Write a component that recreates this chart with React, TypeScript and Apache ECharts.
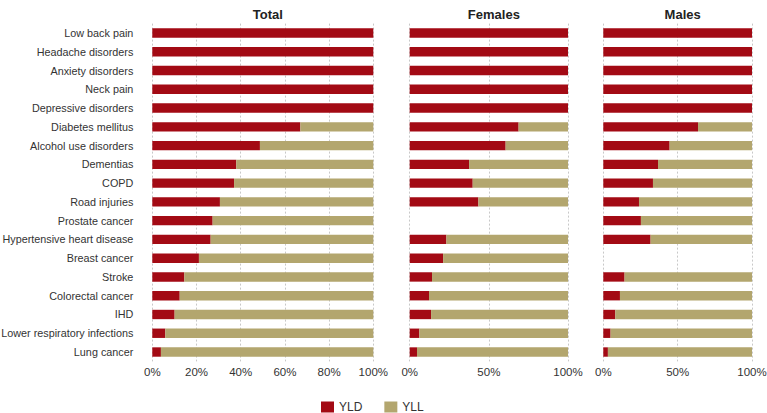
import React, { useEffect, useRef } from "react";
import * as echarts from "echarts";

const categories = [
  "Low back pain",
  "Headache disorders",
  "Anxiety disorders",
  "Neck pain",
  "Depressive disorders",
  "Diabetes mellitus",
  "Alcohol use disorders",
  "Dementias",
  "COPD",
  "Road injuries",
  "Prostate cancer",
  "Hypertensive heart disease",
  "Breast cancer",
  "Stroke",
  "Colorectal cancer",
  "IHD",
  "Lower respiratory infections",
  "Lung cancer",
];

const panelTitles = ["Total", "Females", "Males"];

// YLD share (%) per panel; null = not applicable
const yldTotal: (number | null)[] = [100, 100, 100, 100, 100, 67, 48.7, 38, 37, 30.6, 27.3, 26.4, 21.1, 14.5, 12.4, 10.1, 5.9, 3.9];
const yldFemales: (number | null)[] = [100, 100, 100, 100, 100, 68.8, 60.6, 37.5, 39.8, 43.4, null, 23.2, 21.1, 14.1, 12.2, 13.5, 6.1, 4.6];
const yldMales: (number | null)[] = [100, 100, 100, 100, 100, 63.7, 44.6, 36.8, 33.4, 24.0, 25.3, 31.8, null, 14.3, 11.2, 8.1, 4.9, 3.1];

const yllTotal = yldTotal.map((v) => (v === null ? null : +(100 - v).toFixed(1)));
const yllFemales = yldFemales.map((v) => (v === null ? null : +(100 - v).toFixed(1)));
const yllMales = yldMales.map((v) => (v === null ? null : +(100 - v).toFixed(1)));

const tickIntervals = [20, 50, 50];

const YLD_COLOR = "#A30A14";
const YLL_COLOR = "#B3A66E";
const FONT = "'Liberation Sans', Arial, sans-serif";

export default function App() {
  const ref = useRef<HTMLDivElement>(null);
  useEffect(() => {
    if (!ref.current) return;
    const chart = echarts.init(ref.current, undefined, { renderer: "svg" });
    const top = 23.6;
    const height = 337.8;
    const grids = [
      { left: 152.3, width: 221, top, height, outerBoundsMode: "none", containLabel: false },
      { left: 409.7, width: 158.3, top, height, outerBoundsMode: "none", containLabel: false },
      { left: 603.3, width: 148.7, top, height, outerBoundsMode: "none", containLabel: false },
    ];
    const yld = [yldTotal, yldFemales, yldMales];
    const yll = [yllTotal, yllFemales, yllMales];
    const series: any[] = [];
    for (let i = 0; i < 3; i++) {
      series.push({
        name: "YLD",
        type: "bar",
        stack: "s" + i,
        xAxisIndex: i,
        yAxisIndex: i,
        barWidth: "50%",
        itemStyle: { color: YLD_COLOR },
        data: yld[i],
      });
      series.push({
        name: "YLL",
        type: "bar",
        stack: "s" + i,
        xAxisIndex: i,
        yAxisIndex: i,
        barWidth: "50%",
        itemStyle: { color: YLL_COLOR },
        data: yll[i],
      });
    }
    chart.setOption({
      animation: false,
      textStyle: { fontFamily: FONT },
      title: panelTitles.map((t, i) => ({
        text: t,
        left: grids[i].left + grids[i].width / 2,
        textAlign: "center",
        top: 3,
        textStyle: { fontFamily: FONT, fontSize: 13, fontWeight: "bold", color: "#222" },
      })),
      legend: {
        data: ["YLD", "YLL"],
        top: 396,
        left: 316,
        itemWidth: 13,
        itemHeight: 11,
        itemGap: 22,
        icon: "rect",
        textStyle: { fontFamily: FONT, fontSize: 12, color: "#333" },
      },
      grid: grids,
      xAxis: grids.map((_, i) => ({
        type: "value",
        gridIndex: i,
        min: 0,
        max: 100,
        interval: tickIntervals[i],
        axisLine: { show: false },
        axisTick: { show: false },
        axisLabel: {
          formatter: "{value}%",
          fontFamily: FONT,
          fontSize: 11.5,
          color: "#333",
          margin: 5,
        },
        splitLine: { show: true, lineStyle: { type: [2, 2], color: "#c8c8c8", width: 1 } },
      })),
      yAxis: grids.map((_, i) => ({
        type: "category",
        gridIndex: i,
        inverse: true,
        data: categories,
        axisLine: { show: false },
        axisTick: { show: false },
        axisLabel: {
          show: i === 0,
          fontFamily: FONT,
          fontSize: 10.8,
          color: "#333",
          margin: 19,
        },
      })),
      series,
    });
    return () => chart.dispose();
  }, []);
  return (
    <div
      ref={ref}
      style={{ position: "absolute", left: 0, top: 0, width: 767, height: 413, background: "#fff" }}
    />
  );
}
